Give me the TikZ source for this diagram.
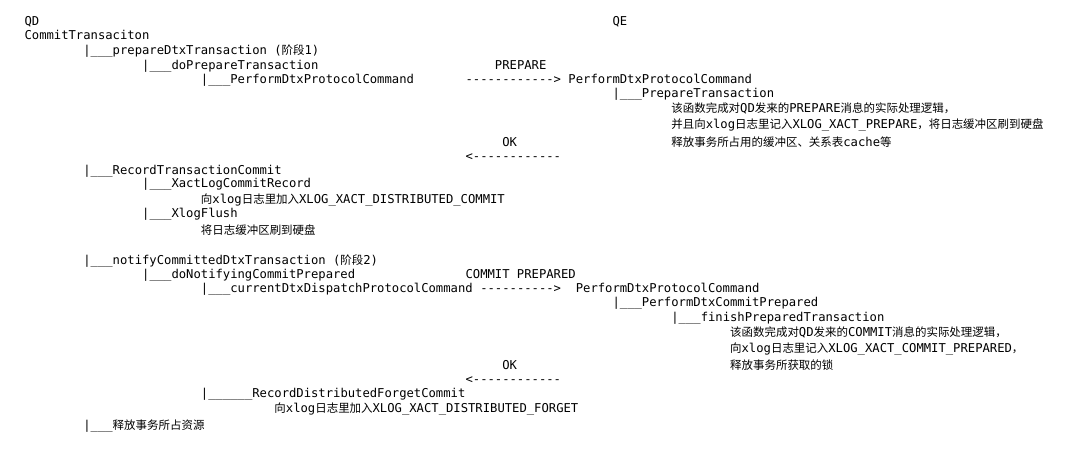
\documentclass[tikz,border=0pt]{standalone}
\usepackage{fontspec}
\setmonofont{DejaVu Sans Mono}
\newfontfamily\cjkfont{Noto Sans CJK SC}
\newcommand{\zh}[1]{{\cjkfont\fontsize{8.6pt}{10pt}\selectfont #1}}
\tikzset{
    code/.style={anchor=base west, inner sep=0pt, text=black,
        font=\ttfamily\fontsize{9.15pt}{11pt}\selectfont},
}
\begin{document}
\begin{tikzpicture}[x=5.5125pt, y=-0.75pt]
\useasboundingbox (-3.306, 0) rectangle (143.63, 449);

\node[code] (qd) at (0, 25.1) {QD};
\node[code] (qe) at (80, 25.1) {QE};
\node[code] (commit) at (0, 39.1) {CommitTransaciton};

\node[code] (prep) at (8, 54.5) {|\_\_\_prepareDtxTransaction (\zh{阶段}1)};
\node[code] (doprep) at (16, 69.2) {|\_\_\_doPrepareTransaction};
\node[code] (lblprep) at (64, 69.2) {PREPARE};
\node[code] (perfqd) at (24, 84) {|\_\_\_PerformDtxProtocolCommand};
\node[code] (arrprep) at (60, 84) {------------>};
\node[code] (perfqe) at (74, 84) {PerformDtxProtocolCommand};
\node[code] (preptx) at (80, 97.7) {|\_\_\_PrepareTransaction};
\node[code] (notea) at (88, 112.7) {\zh{该函数完成对}QD\zh{发来的}PREPARE\zh{消息的实际处理逻辑，}};
\node[code] (noteb) at (88, 128.7) {\zh{并且向}xlog\zh{日志里记入}XLOG\_XACT\_PREPARE\zh{，将日志缓冲区刷到硬盘}};
\node[code] (notec) at (88, 146) {\zh{释放事务所占用的缓冲区、关系表}cache\zh{等}};
\node[code] (lblok) at (65, 146) {OK};
\node[code] (arrok) at (60, 160) {<------------};

\node[code] (rectc) at (8, 174.4) {|\_\_\_RecordTransactionCommit};
\node[code] (xactlog) at (16, 187.7) {|\_\_\_XactLogCommitRecord};
\node[code] (xactnote) at (24, 203.4) {\zh{向}xlog\zh{日志里加入}XLOG\_XACT\_DISTRIBUTED\_COMMIT};
\node[code] (xflush) at (16, 217.7) {|\_\_\_XlogFlush};
\node[code] (flushnote) at (24, 234.4) {\zh{将日志缓冲区刷到硬盘}};

\node[code] (notify) at (8, 264.4) {|\_\_\_notifyCommittedDtxTransaction (\zh{阶段}2)};
\node[code] (donotify) at (16, 278.7) {|\_\_\_doNotifyingCommitPrepared};
\node[code] (lblcp) at (60, 278.7) {COMMIT PREPARED};
\node[code] (curdisp) at (24, 292.9) {|\_\_\_currentDtxDispatchProtocolCommand};
\node[code] (arrcp) at (62, 292.9) {---------->};
\node[code] (perfqe2) at (75, 292.9) {PerformDtxProtocolCommand};
\node[code] (perfcp) at (80, 306.7) {|\_\_\_PerformDtxCommitPrepared};
\node[code] (finish) at (88, 321.1) {|\_\_\_finishPreparedTransaction};
\node[code] (noted) at (96, 336.7) {\zh{该函数完成对}QD\zh{发来的}COMMIT\zh{消息的实际处理逻辑，}};
\node[code] (notee) at (96, 352.7) {\zh{向}xlog\zh{日志里记入}XLOG\_XACT\_COMMIT\_PREPARED\zh{，}};
\node[code] (notef) at (96, 369.4) {\zh{释放事务所获取的锁}};
\node[code] (lblok2) at (65, 369.4) {OK};
\node[code] (arrok2) at (60, 383) {<------------};
\node[code] (forget) at (24, 397.7) {|\_\_\_\_\_\_RecordDistributedForgetCommit};
\node[code] (forgetnote) at (34, 412.7) {\zh{向}xlog\zh{日志里加入}XLOG\_XACT\_DISTRIBUTED\_FORGET};

\node[code] (release) at (8, 429.4) {|\_\_\_\zh{释放事务所占资源}};
\end{tikzpicture}
\end{document}
